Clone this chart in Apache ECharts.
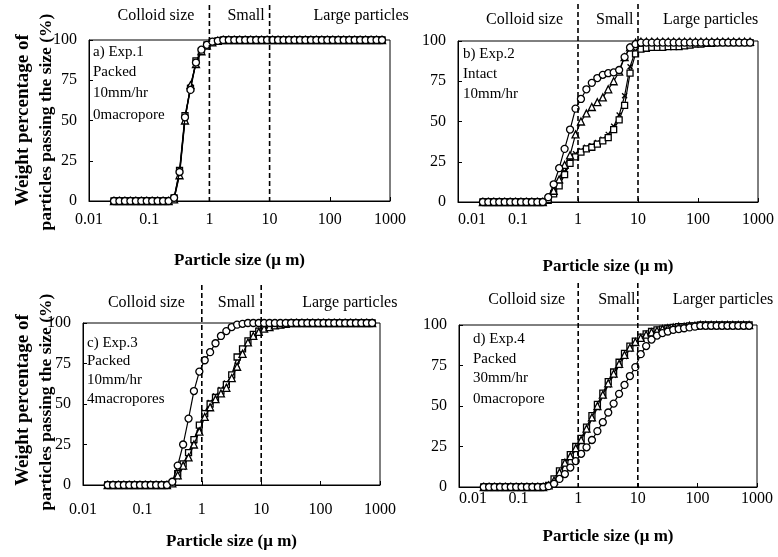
<!DOCTYPE html>
<html><head><meta charset="utf-8">
<script src="https://cdn.jsdelivr.net/npm/echarts@6/dist/echarts.min.js"></script>
<style>html,body{margin:0;padding:0;background:#fff}#c{width:778px;height:557px}</style>
</head><body><div id="c"></div>
<script>
// Particle size (um) sampling channels
const sizes = [0.026,0.032,0.0395,0.0487,0.060,0.074,0.091,0.112,0.138,0.170,0.210,0.259,0.319,0.393,0.485,0.598,0.737,0.909,1.12,1.38,1.70,2.10,2.59,3.19,3.93,4.85,5.98,7.37,9.09,11.2,13.8,17.0,21.0,25.9,31.9,39.3,48.5,59.8,73.7,90.9,112,138,170,210,259,319,393,485,598,737];
const xTickLabels = ['0.01','0.1','1','10','100','1000'];
const yTickValues = [0,25,50,75,100];

// Panel a) Exp.1
const aCircle   = [0,0,0,0,0,0,0,0,0,0,0, 2,18,52,69,86,94,97,99,99.5, 100,100,100,100,100,100,100,100,100,100,100,100,100,100,100,100,100,100,100,100,100,100,100,100,100,100,100,100,100,100];
const aTriangle = [0,0,0,0,0,0,0,0,0,0,0, 1,16,50,72,85,93,96.5,98.5,99.5, 100,100,100,100,100,100,100,100,100,100,100,100,100,100,100,100,100,100,100,100,100,100,100,100,100,100,100,100,100,100];
const aSquare   = [0,0,0,0,0,0,0,0,0,0,0, 2,19,53,70,87,93,97,98.5,99.5, 100,100,100,100,100,100,100,100,100,100,100,100,100,100,100,100,100,100,100,100,100,100,100,100,100,100,100,100,100,100];
const aCross    = [0,0,0,0,0,0,0,0,0,0,0, 1.5,17,51,71,86,94,96,99,99.5, 100,100,100,100,100,100,100,100,100,100,100,100,100,100,100,100,100,100,100,100,100,100,100,100,100,100,100,100,100,100];

// Panel b) Exp.2
const bCircle   = [0,0,0,0,0,0,0,0,0,0,0,0, 3,11,21,33,45,58,64,70,74,77,79,80,80.5,82,90,96,98,99, 99,99,99,99,99,99,99,99,99,99,99,99,99,99,99,99,99,99,99,99];
const bTriangle = [0,0,0,0,0,0,0,0,0,0,0,0, 2,7,14,23,29,42,50,55,59,62,65,70,75,81,90,96,99,99.5, 99.5,99.5,99.5,99.5,99.5,99.5,99.5,99.5,99.5,99.5,99.5,99.5,99.5,99.5,99.5,99.5,99.5,99.5,99.5,99.5];
const bSquare   = [0,0,0,0,0,0,0,0,0,0,0,0, 1,5,10,17,24,28,31,33,34,36,38,40,45,51,60,80,92,95, 95.5,96,96,96,96.5,96.5,96.5,97,97.5,98,98,98.5,98.5,99,99,99,99,99,99,99];
const bCross    = [0,0,0,0,0,0,0,0,0,0,0,0, 1,6,12,19,26,30,32,34,35,37,39,42,47,54,66,84,94,97, 98,98,98.5,98.5,99,99,99,99,99,99,99,99,99,99,99,99,99,99,99,99];

// Panel c) Exp.3
const cCircle   = [0,0,0,0,0,0,0,0,0,0,0,0, 2,12,25,41,58,70,77,82,87.5,92,95,97.5,99,99.5, 100,100,100,100,100,100,100,100,100,100,100,100,100,100,100,100,100,100,100,100,100,100,100,100];
const cTriangle = [0,0,0,0,0,0,0,0,0,0,0,0, 1,6,12,17,25,33,42,48,53,56.5,60,66,73,81,88,92,94.5,96.5,97.5,98.5,99,99.5, 100,100,100,100,100,100,100,100,100,100,100,100,100,100,100,100];
const cSquare   = [0,0,0,0,0,0,0,0,0,0,0,0, 1,7,13,20,28,37,44,50,54,58,62,68,79,84,89,93,95,97,98,98.5,99,99.5, 100,100,100,100,100,100,100,100,100,100,100,100,100,100,100,100];
const cCross    = [0,0,0,0,0,0,0,0,0,0,0,0, 1,5,11,18,27,35,45,51,55,59,63,67,74,82,88,92.5,95.5,97.5,98,99,99,99.5, 100,100,100,100,100,100,100,100,100,100,100,100,100,100,100,100];

// Panel d) Exp.4
const dCircle   = [0,0,0,0,0,0,0,0,0,0,0,0, 0.5,2,5,8,12,16,20.5,24.5,29,34.5,40,46,51.5,57.5,63,68.5,74,82,87,91,93.5,95,96,97,97.5,98,98.5,99, 99.5,99.5,99.5,99.5,99.5,99.5,99.5,99.5,99.5,99.5];
const dTriangle = [0,0,0,0,0,0,0,0,0,0,0,0, 1,4,9,15,19,24,29,36,43,50,57,64,70,76,81.5,86,89.5,92,94,95.5,96.5,97.5,98,98.5,99,99,99.5,99.5, 100,100,100,100,100,100,100,100,100,100];
const dSquare   = [0,0,0,0,0,0,0,0,0,0,0,0, 1,5,10,15,20,25,30,37,44,51,58,65,71,77,82.5,87,90,92.5,94.5,96,97,97.5,98,98.5,99,99,99.5,99.5, 100,100,100,100,100,100,100,100,100,100];
const dCross    = [0,0,0,0,0,0,0,0,0,0,0,0, 0.5,3,8,14,18,23,28,35,42,49,56,63,69,75,80.5,85,89,91.5,93.5,95,96,97,97.5,98,98.5,99,99,99.5, 99.5,99.5,99.5,99.5,99.5,99.5,99.5,99.5,99.5,99.5];

const panelSeries = [
  [aCircle, aTriangle, aSquare, aCross],
  [bCircle, bTriangle, bSquare, bCross],
  [cCircle, cTriangle, cSquare, cCross],
  [dCircle, dTriangle, dSquare, dCross]
];
const panelNotes = [
  ['a) Exp.1','Packed','10mm/hr','0macropore'],
  ['b) Exp.2','Intact','10mm/hr'],
  ['c) Exp.3','Packed','10mm/hr','4macropores'],
  ['d) Exp.4','Packed','30mm/hr','0macropore']
];
const zoneLabels = [
  ['Colloid size','Small','Large particles'],
  ['Colloid size','Small','Large particles'],
  ['Colloid size','Small','Large particles'],
  ['Colloid size','Small','Larger particles']
];
const boundaries = [1, 10];
const xTitle = 'Particle size (\u03bc m)';
const yTitle1 = 'Weight percentage of';
const yTitle2 = 'particles passing the size (%)';

// ---- layout (styling only) ----
const FONT = "'Liberation Serif','Times New Roman',serif";
const grids = [
  {left:89, top:40, width:301, height:161},
  {left:458, top:41, width:300, height:161},
  {left:83, top:323, width:297, height:162},
  {left:459, top:325, width:298, height:162}
];
const xLabelMargin = [11, 10, 17, 4];
const xNameGap = [51, 56, 48, 41];
const alignMin = ['center', 'left', 'center', 'left'];
const dashTop = [5, 4, 285, 283];
const zoneY = [16, 20, 303, 300];
const zoneOff = [[-15, 18, 44], [-15, 18, 25], [-17, 16, 41], [-13, 20, 35]];
const noteX = [93, 463, 87, 473];
const noteY = [[52,72,93,115],[54,74,94],[343,361,380,399],[339,359,378,399]];

const crossPath = 'path://M0,0L10,10M10,0L0,10';
const symbols = ['circle','triangle','rect',crossPath];
const symSizes = [7,7,6,5];

const option = {
  animation:false,
  backgroundColor:'#fff',
  grid: grids.map(g => Object.assign({show:true, borderColor:'#000', borderWidth:1, backgroundColor:'transparent'}, g)),
  xAxis: grids.map((g,i) => ({
    type:'log', logBase:10, min:0.01, max:1000, gridIndex:i,
    name:xTitle, nameLocation:'middle', nameGap:xNameGap[i],
    nameTextStyle:{fontFamily:FONT, fontSize:17, fontWeight:'bold', color:'#000'},
    axisLine:{show:true, lineStyle:{color:'#000', width:1}},
    axisTick:{show:true, inside:true, length:4, lineStyle:{color:'#000'}},
    minorTick:{show:false},
    splitLine:{show:false},
    axisLabel:{fontFamily:FONT, fontSize:16, color:'#000', margin:xLabelMargin[i], hideOverlap:false, showMinLabel:true, showMaxLabel:true,
      alignMinLabel:alignMin[i],
      formatter:v => xTickLabels[Math.round(Math.log10(v)) + 2]}
  })),
  yAxis: grids.map((g,i) => ({
    type:'value', min:0, max:100, interval:25, gridIndex:i,
    axisLine:{show:true, lineStyle:{color:'#000', width:1}},
    axisTick:{show:true, inside:true, length:4, lineStyle:{color:'#000'}},
    splitLine:{show:false},
    axisLabel:{fontFamily:FONT, fontSize:16, color:'#000', margin:12,
      formatter:v => yTickValues.indexOf(v) >= 0 ? String(v) : ''}
  })),
  series: []
};
panelSeries.forEach((list, i) => {
  list.forEach((ys, k) => {
    option.series.push({
      type:'line', xAxisIndex:i, yAxisIndex:i,
      data: sizes.map((x, j) => [x, ys[j]]),
      symbol: symbols[k], symbolSize: symSizes[k], showSymbol:true,
      lineStyle:{color:'#000', width:1.2},
      itemStyle:{color:'#fff', borderColor:'#000', borderWidth:1.3},
      z: 3 + (3 - k)
    });
  });
});

const chart = echarts.init(document.getElementById('c'), null, {renderer:'canvas'});
chart.setOption(option);

const g = [];
grids.forEach((gr, i) => {
  const p1 = chart.convertToPixel({xAxisIndex:i, yAxisIndex:i}, [boundaries[0], 0]);
  const p10 = chart.convertToPixel({xAxisIndex:i, yAxisIndex:i}, [boundaries[1], 0]);
  [p1, p10].forEach(p => {
    g.push({type:'line', z:50, shape:{x1:p[0], y1:dashTop[i], x2:p[0], y2:p[1]},
      style:{stroke:'#000', lineWidth:1.6, lineDash:[5,3]}});
  });
  const zl = zoneLabels[i];
  g.push({type:'text', z:60, x:p1[0] + zoneOff[i][0], y:zoneY[i], style:{text:zl[0], font:'16px ' + FONT, fill:'#000', textAlign:'right', textVerticalAlign:'middle'}});
  g.push({type:'text', z:60, x:p1[0] + zoneOff[i][1], y:zoneY[i], style:{text:zl[1], font:'16px ' + FONT, fill:'#000', textAlign:'left', textVerticalAlign:'middle'}});
  g.push({type:'text', z:60, x:p10[0] + zoneOff[i][2], y:zoneY[i], style:{text:zl[2], font:'16px ' + FONT, fill:'#000', textAlign:'left', textVerticalAlign:'middle'}});
  panelNotes[i].forEach((t, k) => {
    g.push({type:'text', z:60, x:noteX[i], y:noteY[i][k], style:{text:t, font:'15px ' + FONT, fill:'#000', textAlign:'left', textVerticalAlign:'middle'}});
  });
});
// y-axis titles (panels a and c)
[[120, 122], [400, 402]].forEach(yy => {
  g.push({type:'text', z:60, x:23, y:yy[0], rotation:Math.PI/2, style:{text:yTitle1, font:'bold 19px ' + FONT, fill:'#000', textAlign:'center', textVerticalAlign:'middle'}});
  g.push({type:'text', z:60, x:46, y:yy[1], rotation:Math.PI/2, style:{text:yTitle2, font:'bold 17.5px ' + FONT, fill:'#000', textAlign:'center', textVerticalAlign:'middle'}});
});
chart.setOption({graphic: g});
</script>
</body></html>
